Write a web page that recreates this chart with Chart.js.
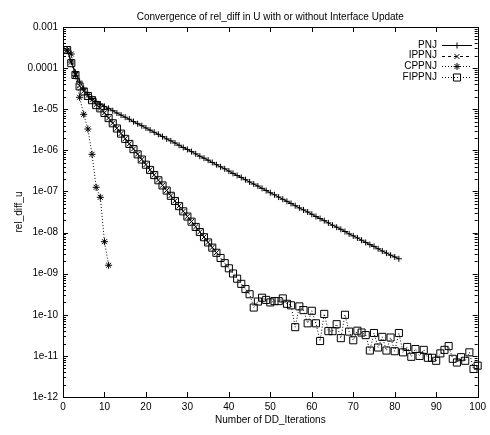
<!DOCTYPE html>
<html>
<head>
<meta charset="utf-8">
<script src="https://cdn.jsdelivr.net/npm/chart.js@4.4.0/dist/chart.umd.min.js"></script>
<style>
  html, body { margin: 0; padding: 0; background: #fff; }
</style>
</head>
<body>
<canvas id="convchart" width="490" height="435"></canvas>
<script>
// DD iteration numbers (x values)
var iterations = [1, 2, 3, 4, 5, 6, 7, 8, 9, 10, 11, 12, 13, 14, 15, 16, 17, 18, 19, 20,
  21, 22, 23, 24, 25, 26, 27, 28, 29, 30, 31, 32, 33, 34, 35, 36, 37, 38, 39, 40,
  41, 42, 43, 44, 45, 46, 47, 48, 49, 50, 51, 52, 53, 54, 55, 56, 57, 58, 59, 60,
  61, 62, 63, 64, 65, 66, 67, 68, 69, 70, 71, 72, 73, 74, 75, 76, 77, 78, 79, 80,
  81, 82, 83, 84, 85, 86, 87, 88, 89, 90, 91, 92, 93, 94, 95, 96, 97, 98, 99, 100];

var seriesNames = ["PNJ", "IPPNJ", "CPPNJ", "FIPPNJ"];

// rel_diff_u per iteration
var pnj = [2.75e-4, 1.41e-4, 7.9e-5, 4.8e-5, 3.16e-5, 2.29e-5, 1.82e-5, 1.55e-5, 1.35e-5, 1.17e-5,
  1.05e-5, 9.2e-6, 8.1e-6, 7.2e-6, 6.4e-6, 5.7e-6, 5.0e-6, 4.45e-6, 3.97e-6, 3.5e-6,
  3.1e-6, 2.75e-6, 2.45e-6, 2.16e-6, 1.9e-6, 1.7e-6, 1.51e-6, 1.33e-6, 1.17e-6, 1.05e-6,
  9.3e-7, 8.2e-7, 7.2e-7, 6.45e-7, 5.75e-7, 5.07e-7, 4.47e-7, 3.98e-7, 3.55e-7, 3.13e-7,
  2.75e-7, 2.45e-7, 2.19e-7, 1.93e-7, 1.7e-7, 1.51e-7, 1.35e-7, 1.19e-7, 1.05e-7, 9.3e-8,
  8.3e-8, 7.3e-8, 6.45e-8, 5.75e-8, 5.1e-8, 4.5e-8, 3.98e-8, 3.55e-8, 3.16e-8, 2.79e-8,
  2.45e-8, 2.19e-8, 1.95e-8, 1.72e-8, 1.51e-8, 1.35e-8, 1.2e-8, 1.06e-8, 9.3e-9, 8.3e-9,
  7.4e-9, 6.5e-9, 5.75e-9, 5.1e-9, 4.6e-9, 4.03e-9, 3.55e-9, 3.16e-9, 2.82e-9, 2.55e-9,
  2.3e-9];

var ippnj = [2.7e-4, 1.4e-4, 7.0e-5, 3.7e-5, 2.75e-5, 2.15e-5, 1.7e-5, 1.3e-5, 1.06e-5, 8.2e-6,
  6.1e-6, 4.6e-6, 3.45e-6, 2.57e-6, 1.92e-6, 1.44e-6, 1.08e-6, 8.1e-7, 6.0e-7, 4.5e-7,
  3.36e-7, 2.52e-7, 1.89e-7, 1.41e-7, 1.06e-7, 7.9e-8, 5.9e-8, 4.42e-8, 3.3e-8, 2.47e-8,
  1.85e-8, 1.38e-8, 1.04e-8, 7.8e-9, 5.8e-9, 4.35e-9, 3.25e-9];

var cppnj = [2.75e-4, 2.2e-4, 6.5e-5, 1.95e-5, 7.5e-6, 3.3e-6, 8.0e-7, 1.26e-7, 7.2e-8, 6.0e-9, 1.6e-9];

var fippnj = [2.75e-4, 1.32e-4, 6.8e-5, 3.6e-5, 2.7e-5, 2.1e-5, 1.66e-5, 1.26e-5, 1.05e-5, 8.1e-6,
  6.08e-6, 4.55e-6, 3.4e-6, 2.55e-6, 1.9e-6, 1.43e-6, 1.07e-6, 7.98e-7, 5.97e-7, 4.47e-7,
  3.34e-7, 2.5e-7, 1.87e-7, 1.4e-7, 1.05e-7, 7.83e-8, 5.86e-8, 4.39e-8, 3.28e-8, 2.45e-8,
  1.84e-8, 1.37e-8, 1.03e-8, 7.7e-9, 5.75e-9, 4.3e-9, 3.22e-9, 2.41e-9, 1.8e-9, 1.35e-9,
  1.01e-9, 7.55e-10, 5.65e-10, 4.23e-10, 3.16e-10,
  1.5e-10, 2.1e-10, 2.6e-10, 2.3e-10, 2.0e-10, 2.15e-10, 2.15e-10, 2.5e-10, 1.85e-10, 1.7e-10,
  5.0e-11, 1.6e-10, 1.3e-10, 6.2e-11, 1.25e-10, 6.2e-11, 2.3e-11, 1.05e-10, 4.0e-11, 4.0e-11,
  5.9e-11, 2.7e-11, 1.0e-10, 3.9e-11, 2.4e-11, 4.1e-11, 3.7e-11, 3.2e-11, 1.35e-11, 3.6e-11,
  1.6e-11, 2.9e-11, 1.35e-11, 2.8e-11, 1.3e-11, 3.6e-11, 1.22e-11, 1.65e-11, 9.5e-12, 1.47e-11,
  1.0e-11, 1.4e-11, 9.0e-12, 9.0e-12, 7.6e-12, 1.15e-11, 1.4e-11, 1.73e-11, 8.5e-12, 6.9e-12,
  9.3e-12, 7.6e-12, 1.22e-11, 4.8e-12, 5.8e-12];

// axis ticks
var xTicks = [0, 10, 20, 30, 40, 50, 60, 70, 80, 90, 100];
var yTickValues = [1e-3, 1e-4, 1e-5, 1e-6, 1e-7, 1e-8, 1e-9, 1e-10, 1e-11, 1e-12];
var yTickLabels = ["0.001", "0.0001", "1e-05", "1e-06", "1e-07", "1e-08", "1e-09", "1e-10", "1e-11", "1e-12"];

var FONT = '"Liberation Sans", Arial, Helvetica, sans-serif';
var FSIZE = 10;

function toPoints(vals) {
  return vals.map(function(v, i) { return { x: iterations[i], y: v }; });
}

var datasets = [
  { label: seriesNames[0], data: toPoints(pnj), borderDash: [], pointStyle: 'cross', pointRadius: 3 },
  { label: seriesNames[1], data: toPoints(ippnj), borderDash: [3, 3], pointStyle: 'crossRot', pointRadius: 3.5 },
  { label: seriesNames[2], data: toPoints(cppnj), borderDash: [1, 2], pointStyle: 'star', pointRadius: 3.5 },
  { label: seriesNames[3], data: toPoints(fippnj), borderDash: [1, 2], pointStyle: 'rect', pointRadius: 5 }
].map(function(d) {
  d.borderColor = '#000';
  d.backgroundColor = 'rgba(0,0,0,0)';
  d.pointBorderColor = '#000';
  d.pointBackgroundColor = 'rgba(0,0,0,0)';
  d.borderWidth = 1;
  d.pointBorderWidth = 1;
  d.fill = false;
  d.tension = 0;
  d.clip = false;
  return d;
});

// frame, inward tics, legend and titles, gnuplot style
var framePlugin = {
  id: 'gnuframe',
  afterDraw: function(chart) {
    var ctx = chart.ctx, a = chart.chartArea;
    var xs = chart.scales.x, ys = chart.scales.y;
    ctx.save();
    ctx.strokeStyle = '#000';
    ctx.lineWidth = 1;
    ctx.setLineDash([]);
    ctx.strokeRect(Math.round(a.left) + 0.5, Math.round(a.top) + 0.5,
      Math.round(a.right - a.left), Math.round(a.bottom - a.top));

    ctx.beginPath();
    xs.ticks.forEach(function(t) {
      var px = Math.round(xs.getPixelForValue(t.value)) + 0.5;
      ctx.moveTo(px, a.bottom); ctx.lineTo(px, a.bottom - 5);
      ctx.moveTo(px, a.top); ctx.lineTo(px, a.top + 5);
    });
    yTickValues.forEach(function(v) {
      var py = Math.round(ys.getPixelForValue(v)) + 0.5;
      ctx.moveTo(a.left, py); ctx.lineTo(a.left + 5, py);
      ctx.moveTo(a.right, py); ctx.lineTo(a.right - 5, py);
    });
    for (var d = 0; d < yTickValues.length - 1; d++) {
      for (var m = 2; m <= 9; m++) {
        var py = Math.round(ys.getPixelForValue(yTickValues[d + 1] * m)) + 0.5;
        ctx.moveTo(a.left, py); ctx.lineTo(a.left + 3, py);
        ctx.moveTo(a.right, py); ctx.lineTo(a.right - 3, py);
      }
    }
    ctx.stroke();

    // legend
    ctx.font = FSIZE + 'px ' + FONT;
    ctx.fillStyle = '#000';
    ctx.textAlign = 'right';
    ctx.textBaseline = 'middle';
    chart.data.datasets.forEach(function(ds, i) {
      var y = 45 + i * 10.6;
      ctx.fillText(ds.label, 437, y);
      ctx.setLineDash(ds.borderDash);
      ctx.beginPath();
      ctx.moveTo(442, Math.round(y) + 0.5);
      ctx.lineTo(472, Math.round(y) + 0.5);
      ctx.stroke();
      ctx.setLineDash([]);
      ctx.fillStyle = 'rgba(0,0,0,0)';
      Chart.helpers.drawPoint(ctx, { pointStyle: ds.pointStyle, radius: ds.pointRadius, borderWidth: 1, rotation: 0 }, 457, Math.round(y) + 0.5);
      ctx.fillStyle = '#000';
    });

    // titles
    ctx.textAlign = 'center';
    ctx.fillText('Convergence of rel_diff in U with or without Interface Update', (a.left + a.right) / 2, 17);
    ctx.fillText('Number of DD_Iterations', (a.left + a.right) / 2, 420);
    ctx.translate(19, (a.top + a.bottom) / 2);
    ctx.rotate(-Math.PI / 2);
    ctx.fillText('rel_diff_u', 0, 0);
    ctx.restore();
  }
};

var ctx = document.getElementById('convchart').getContext('2d');
var convchart = new Chart(ctx, {
  type: 'line',
  data: { datasets: datasets },
  options: {
    responsive: false,
    animation: false,
    devicePixelRatio: 1,
    layout: { padding: { top: 27, right: 9, left: 0, bottom: 0 } },
    plugins: {
      legend: { display: false },
      title: { display: false },
      tooltip: { enabled: false }
    },
    scales: {
      x: {
        type: 'linear',
        min: 0,
        max: 100,
        grid: { display: false, drawTicks: false },
        border: { display: false },
        afterBuildTicks: function(s) { s.ticks = xTicks.map(function(v) { return { value: v }; }); },
        ticks: { color: '#000', font: { family: FONT, size: FSIZE }, padding: 4, maxRotation: 0, autoSkip: false },
        afterFit: function(s) { s.height = 38; }
      },
      y: {
        type: 'logarithmic',
        min: 1e-12,
        max: 1e-3,
        grid: { display: false, drawTicks: false },
        border: { display: false },
        afterBuildTicks: function(s) { s.ticks = yTickValues.map(function(v) { return { value: v }; }); },
        ticks: {
          color: '#000',
          font: { family: FONT, size: FSIZE },
          padding: 5,
          autoSkip: false,
          callback: function(v) {
            for (var i = 0; i < yTickValues.length; i++) {
              if (Math.abs(Math.log10(v) - Math.log10(yTickValues[i])) < 1e-6) return yTickLabels[i];
            }
            return '';
          }
        },
        afterFit: function(s) { s.width = 63; }
      }
    }
  },
  plugins: [framePlugin]
});
</script>
</body>
</html>
